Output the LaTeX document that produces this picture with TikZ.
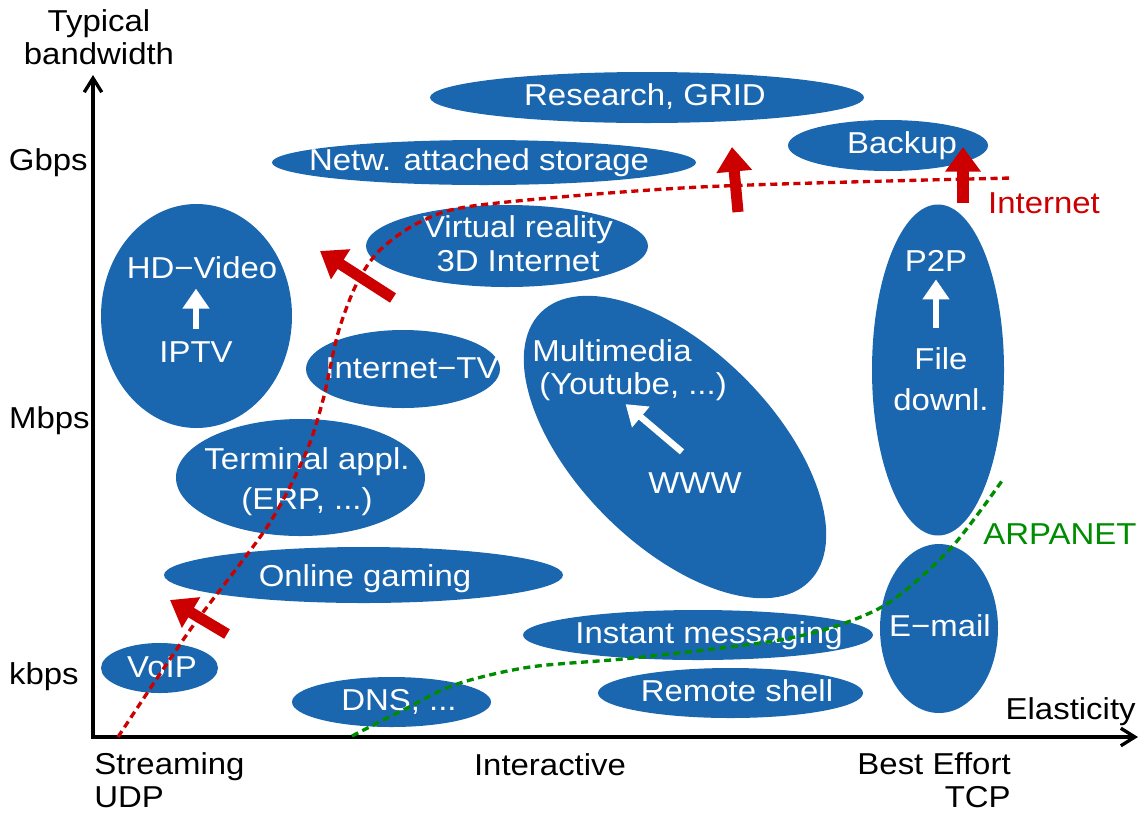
\documentclass[tikz,border=0pt]{standalone}
\usepackage{fontspec}
\setmainfont{Liberation Sans}[FakeStretch=1.09]
\usetikzlibrary{shapes.geometric,arrows.meta,positioning}
\definecolor{appblue}{RGB}{26,103,176}
\definecolor{netred}{RGB}{204,0,0}
\definecolor{arpagreen}{RGB}{0,140,0}

\begin{document}
\begin{tikzpicture}[x=0.02cm,y=-0.02cm,font=\fontsize{17.2pt}{19pt}\selectfont,
    app/.style 2 args={ellipse,fill=appblue,inner sep=0pt,outer sep=0pt,minimum width=#1*0.02cm,minimum height=#2*0.02cm},
    apptext/.style={text=white,inner sep=0pt,align=center},
    axistext/.style={inner sep=0pt,align=center},
    upgrade/.style={white,line width=3.7pt,-{Triangle[width=14.8pt,length=11.4pt]}},
    growth/.style={netred,line width=6.3pt,-{Triangle[width=19.5pt,length=14pt]}},
    netcurve/.style={line width=1.9pt,dash pattern=on 4pt off 2.6pt}]
    \useasboundingbox (0,0) rectangle (1145,812);

    \coordinate (origin) at (93,737);
    \coordinate (ytip) at (93,75);
    \coordinate (xtip) at (1138,737);
    \draw[line width=1.9pt,{Straight Barb[length=8pt,width=10pt]}-{Straight Barb[length=8pt,width=10pt]}] (ytip) -- (origin) -- (xtip);

    \node[axistext] (ylabel) at (99,37.5) {Typical\\bandwidth};
    \node[axistext,anchor=base east] (gbps) at (88,170) {Gbps};
    \node[axistext,anchor=base east] (mbps) at (90,428) {Mbps};
    \node[axistext,anchor=base east] (kbps) at (79,684) {kbps};
    \node[axistext,anchor=base east] (xlabel) at (1136,719) {Elasticity};
    \node[axistext,align=left,anchor=west] (streaming) at (94,780) {Streaming\\UDP};
    \node[axistext,anchor=base] (interactive) at (550,775) {Interactive};
    \node[axistext,align=right,anchor=east] (besteffort) at (1011,780) {Best Effort\\TCP};

    \node[app={434}{51}] (research) at (647,97.5) {};
    \node[app={424}{45}] (nas) at (484,162.5) {};
    \node[app={200}{51}] (backup) at (888,145.5) {};
    \node[app={282}{82}] (vr) at (507,246) {};
    \node[app={191}{224}] (hd) at (196.5,316) {};
    \node[app={194}{78}] (itv) at (403,369) {};
    \node[app={380}{196},rotate=-45] (mm) at (675,447) {};
    \node[app={249}{117}] (term) at (300.5,477.5) {};
    \node[app={399}{56}] (gaming) at (363.5,575) {};
    \node[app={350}{50}] (im) at (698,635) {};
    \node[app={117}{50}] (voip) at (159.5,668) {};
    \node[app={199}{50}] (dns) at (391.5,702) {};
    \node[app={265}{50}] (shell) at (730.5,693) {};
    \node[app={132}{331}] (p2p) at (938,370) {};
    \node[app={118}{169}] (email) at (939,628.5) {};

    \node[apptext,anchor=base] (researchlbl) at (645,105) {Research, GRID};
    \node[apptext,anchor=base] (naslbl) at (479,170) {Netw. attached storage};
    \node[apptext,anchor=base] (backuplbl) at (902,153) {Backup};
    \node[apptext] (vrlbl) at (518,243.5) {Virtual reality\\3D Internet};
    \node[apptext,anchor=base] (hdvideo) at (202,278) {HD−Video};
    \node[apptext,anchor=base] (iptv) at (196,362) {IPTV};
    \node[apptext,anchor=base] (itvlbl) at (412,378) {Internet−TV};
    \node[apptext,align=left,anchor=west] (multimedia) at (532,370) {Multimedia\\\hspace{4pt}(Youtube, ...)};
    \node[apptext,anchor=base] (www) at (695,493) {WWW};
    \node[apptext] (termlbl) at (307,481.5) {Terminal appl.\\[3.8pt](ERP, ...)};
    \node[apptext,anchor=base] (gaminglbl) at (365,586) {Online gaming};
    \node[apptext,anchor=base] (imlbl) at (709,643) {Instant messaging};
    \node[apptext,anchor=base] (voiplbl) at (162,677) {VoIP};
    \node[apptext,anchor=base] (dnslbl) at (399,710) {DNS, ...};
    \node[apptext,anchor=base] (shelllbl) at (737,701) {Remote shell};
    \node[apptext,anchor=base] (p2plbl) at (936,271) {P2P};
    \node[apptext] (filedl) at (941,379.5) {File\\[4.3pt]downl.};
    \node[apptext,anchor=base] (emaillbl) at (940,636) {E−mail};

    \draw[upgrade,shorten <=7pt,shorten >=5.7pt] (iptv.north) -- (iptv.north |- hdvideo.south);
    \draw[upgrade,shorten <=11.4pt,shorten >=4.6pt] (filedl.north -| p2plbl.south) -- (p2plbl.south);
    \draw[upgrade] ([shift={(-13,-20)}]www.north) -- ([shift={(-4,3)}]multimedia.south);

    \draw[netcurve,netred] plot[smooth,tension=0.5] coordinates {(118,737) (190,630) (267,527) (305,455) (323,400) (338,333) (357,283) (380,250) (420,222) (480,205) (700,187) (1012,178)};
    \draw[netcurve,arpagreen] plot[smooth,tension=0.5] coordinates {(352,736) (407,708) (457,684) (530,667) (633,658) (767,642) (833,627) (890,602) (951,548) (1004,478)};

    \coordinate (jump1) at (227,634);
    \coordinate (jump1end) at (170,600);
    \coordinate (jump2) at (393,298);
    \coordinate (jump2end) at (320,251);
    \coordinate (jump3) at (738,212);
    \coordinate (jump3end) at (732,147);
    \coordinate (jump4) at (963,203);
    \coordinate (jump4end) at (963,147);
    \draw[growth] (jump1) -- (jump1end);
    \draw[growth] (jump2) -- (jump2end);
    \draw[growth] (jump3) -- (jump3end);
    \draw[growth] (jump4) -- (jump4end);

    \node[axistext,anchor=base,text=netred] (inetlbl) at (1044,213) {Internet};
    \node[axistext,anchor=base,text=arpagreen] (arpalbl) at (1060,544) {ARPANET};
\end{tikzpicture}
\end{document}
